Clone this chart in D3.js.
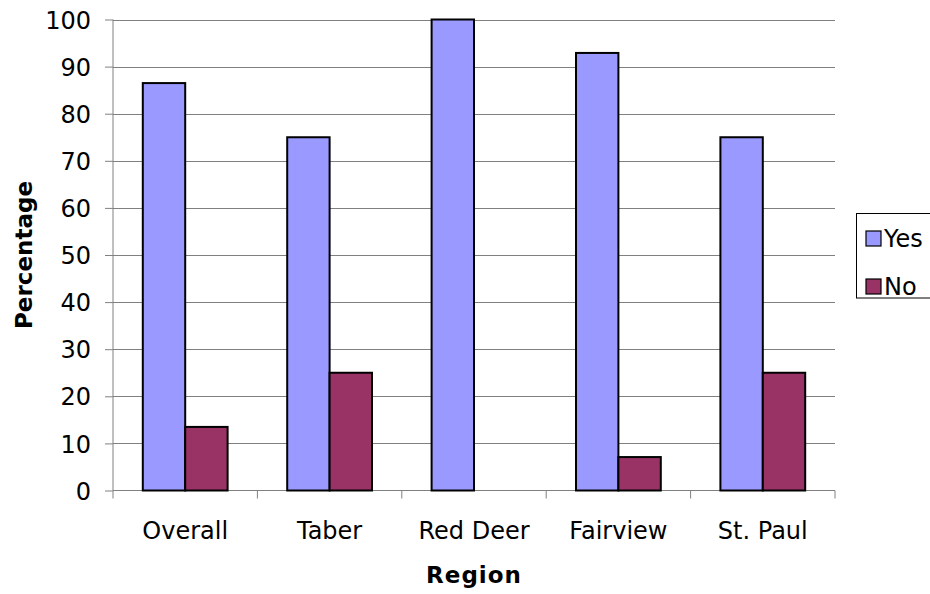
<!DOCTYPE html>
<html>
<head>
<meta charset="utf-8">
<script src="https://cdn.jsdelivr.net/npm/d3@7/dist/d3.min.js"></script>
<style>
  html, body { margin: 0; padding: 0; background: #fff; }
  text { font-family: "DejaVu Sans", Verdana, sans-serif; fill: #000; }
</style>
</head>
<body>
<svg id="chart" width="930" height="594"></svg>
<script>
const categories = ["Overall", "Taber", "Red Deer", "Fairview", "St. Paul"];
const seriesNames = ["Yes", "No"];
const yesValues = [86.5, 75, 100, 92.9, 75];
const noValues = [13.5, 25, 0, 7.1, 25];
const yTicks = [0, 10, 20, 30, 40, 50, 60, 70, 80, 90, 100];
const colors = ["#9999FF", "#993366"];

const svg = d3.select("#chart");
const pL = 113, pR = 835, pT = 19.5, pB = 490.5;

const x = d3.scaleBand().domain(categories).range([pL, pR]).paddingInner(0).paddingOuter(0);
const xSub = d3.scaleBand().domain(seriesNames).range([0, x.bandwidth()]).paddingInner(0).paddingOuter(0.703);
const y = d3.scaleLinear().domain([0, 100]).range([pB, pT]);
const color = d3.scaleOrdinal().domain(seriesNames).range(colors);

// gridlines
svg.append("g").selectAll("line").data(yTicks.filter(t => t > 0)).join("line")
  .attr("x1", pL).attr("x2", pR)
  .attr("y1", d => Math.round(y(d)) + 0.5).attr("y2", d => Math.round(y(d)) + 0.5)
  .attr("stroke", "#808080").attr("stroke-width", 1);

// y axis
const yAxis = d3.axisLeft(y).tickValues(yTicks).tickSize(8).tickPadding(14).tickFormat(d3.format("d"));
const gy = svg.append("g").attr("transform", `translate(${pL},0)`).call(yAxis);
gy.select(".domain").attr("stroke", "#808080").attr("d", `M0,${pT}V${pB}`);
gy.selectAll(".tick line").attr("stroke", "#808080");
gy.selectAll(".tick text").style("font-size", "24px").attr("dy", "0.36em");

// x axis
const gx = svg.append("g").attr("transform", `translate(0,${pB})`);
gx.append("line").attr("x1", pL).attr("x2", pR).attr("y1", 0).attr("y2", 0).attr("stroke", "#808080");
const bounds = categories.map(c => x(c)).concat([pR]);
gx.selectAll("line.tk").data(bounds).join("line").attr("class", "tk")
  .attr("x1", d => d).attr("x2", d => d).attr("y1", 0).attr("y2", 8).attr("stroke", "#808080");
gx.selectAll("text").data(categories).join("text")
  .attr("x", d => x(d) + x.bandwidth() / 2).attr("y", 48.5)
  .attr("text-anchor", "middle").style("font-size", "24px").text(d => d);

// bars
const rows = categories.map((c, i) => ({ cat: c, vals: [yesValues[i], noValues[i]] }));
const groups = svg.append("g").selectAll("g").data(rows).join("g")
  .attr("transform", d => `translate(${x(d.cat)},0)`);
groups.selectAll("rect").data(d => seriesNames.map((s, j) => ({ s, v: d.vals[j] })).filter(e => e.v > 0)).join("rect")
  .attr("x", d => xSub(d.s))
  .attr("width", xSub.bandwidth())
  .attr("y", d => y(d.v))
  .attr("height", d => y(0) - y(d.v))
  .attr("fill", d => color(d.s))
  .attr("stroke", "#000").attr("stroke-width", 2);

// axis titles
svg.append("text").attr("x", (pL + pR) / 2).attr("y", 583)
  .attr("text-anchor", "middle").style("font-size", "23px").style("font-weight", "bold")
  .style("letter-spacing", "1px").text("Region");
svg.append("text").attr("transform", `translate(32,${(pT + pB) / 2}) rotate(-90)`)
  .attr("text-anchor", "middle").style("font-size", "23px").style("font-weight", "bold")
  .text("Percentage");

// legend
const lg = svg.append("g");
lg.append("rect").attr("x", 856.5).attr("y", 213.5).attr("width", 90).attr("height", 84.5)
  .attr("fill", "#fff").attr("stroke", "#000").attr("stroke-width", 1);
const li = lg.selectAll("g").data(seriesNames).join("g")
  .attr("transform", (d, i) => `translate(866,${231 + i * 48})`);
li.append("rect").attr("width", 15).attr("height", 15).attr("fill", d => color(d))
  .attr("stroke", "#000").attr("stroke-width", 1.2);
li.append("text").attr("x", 18).attr("y", 16).style("font-size", "24px").text(d => d);
</script>
</body>
</html>
